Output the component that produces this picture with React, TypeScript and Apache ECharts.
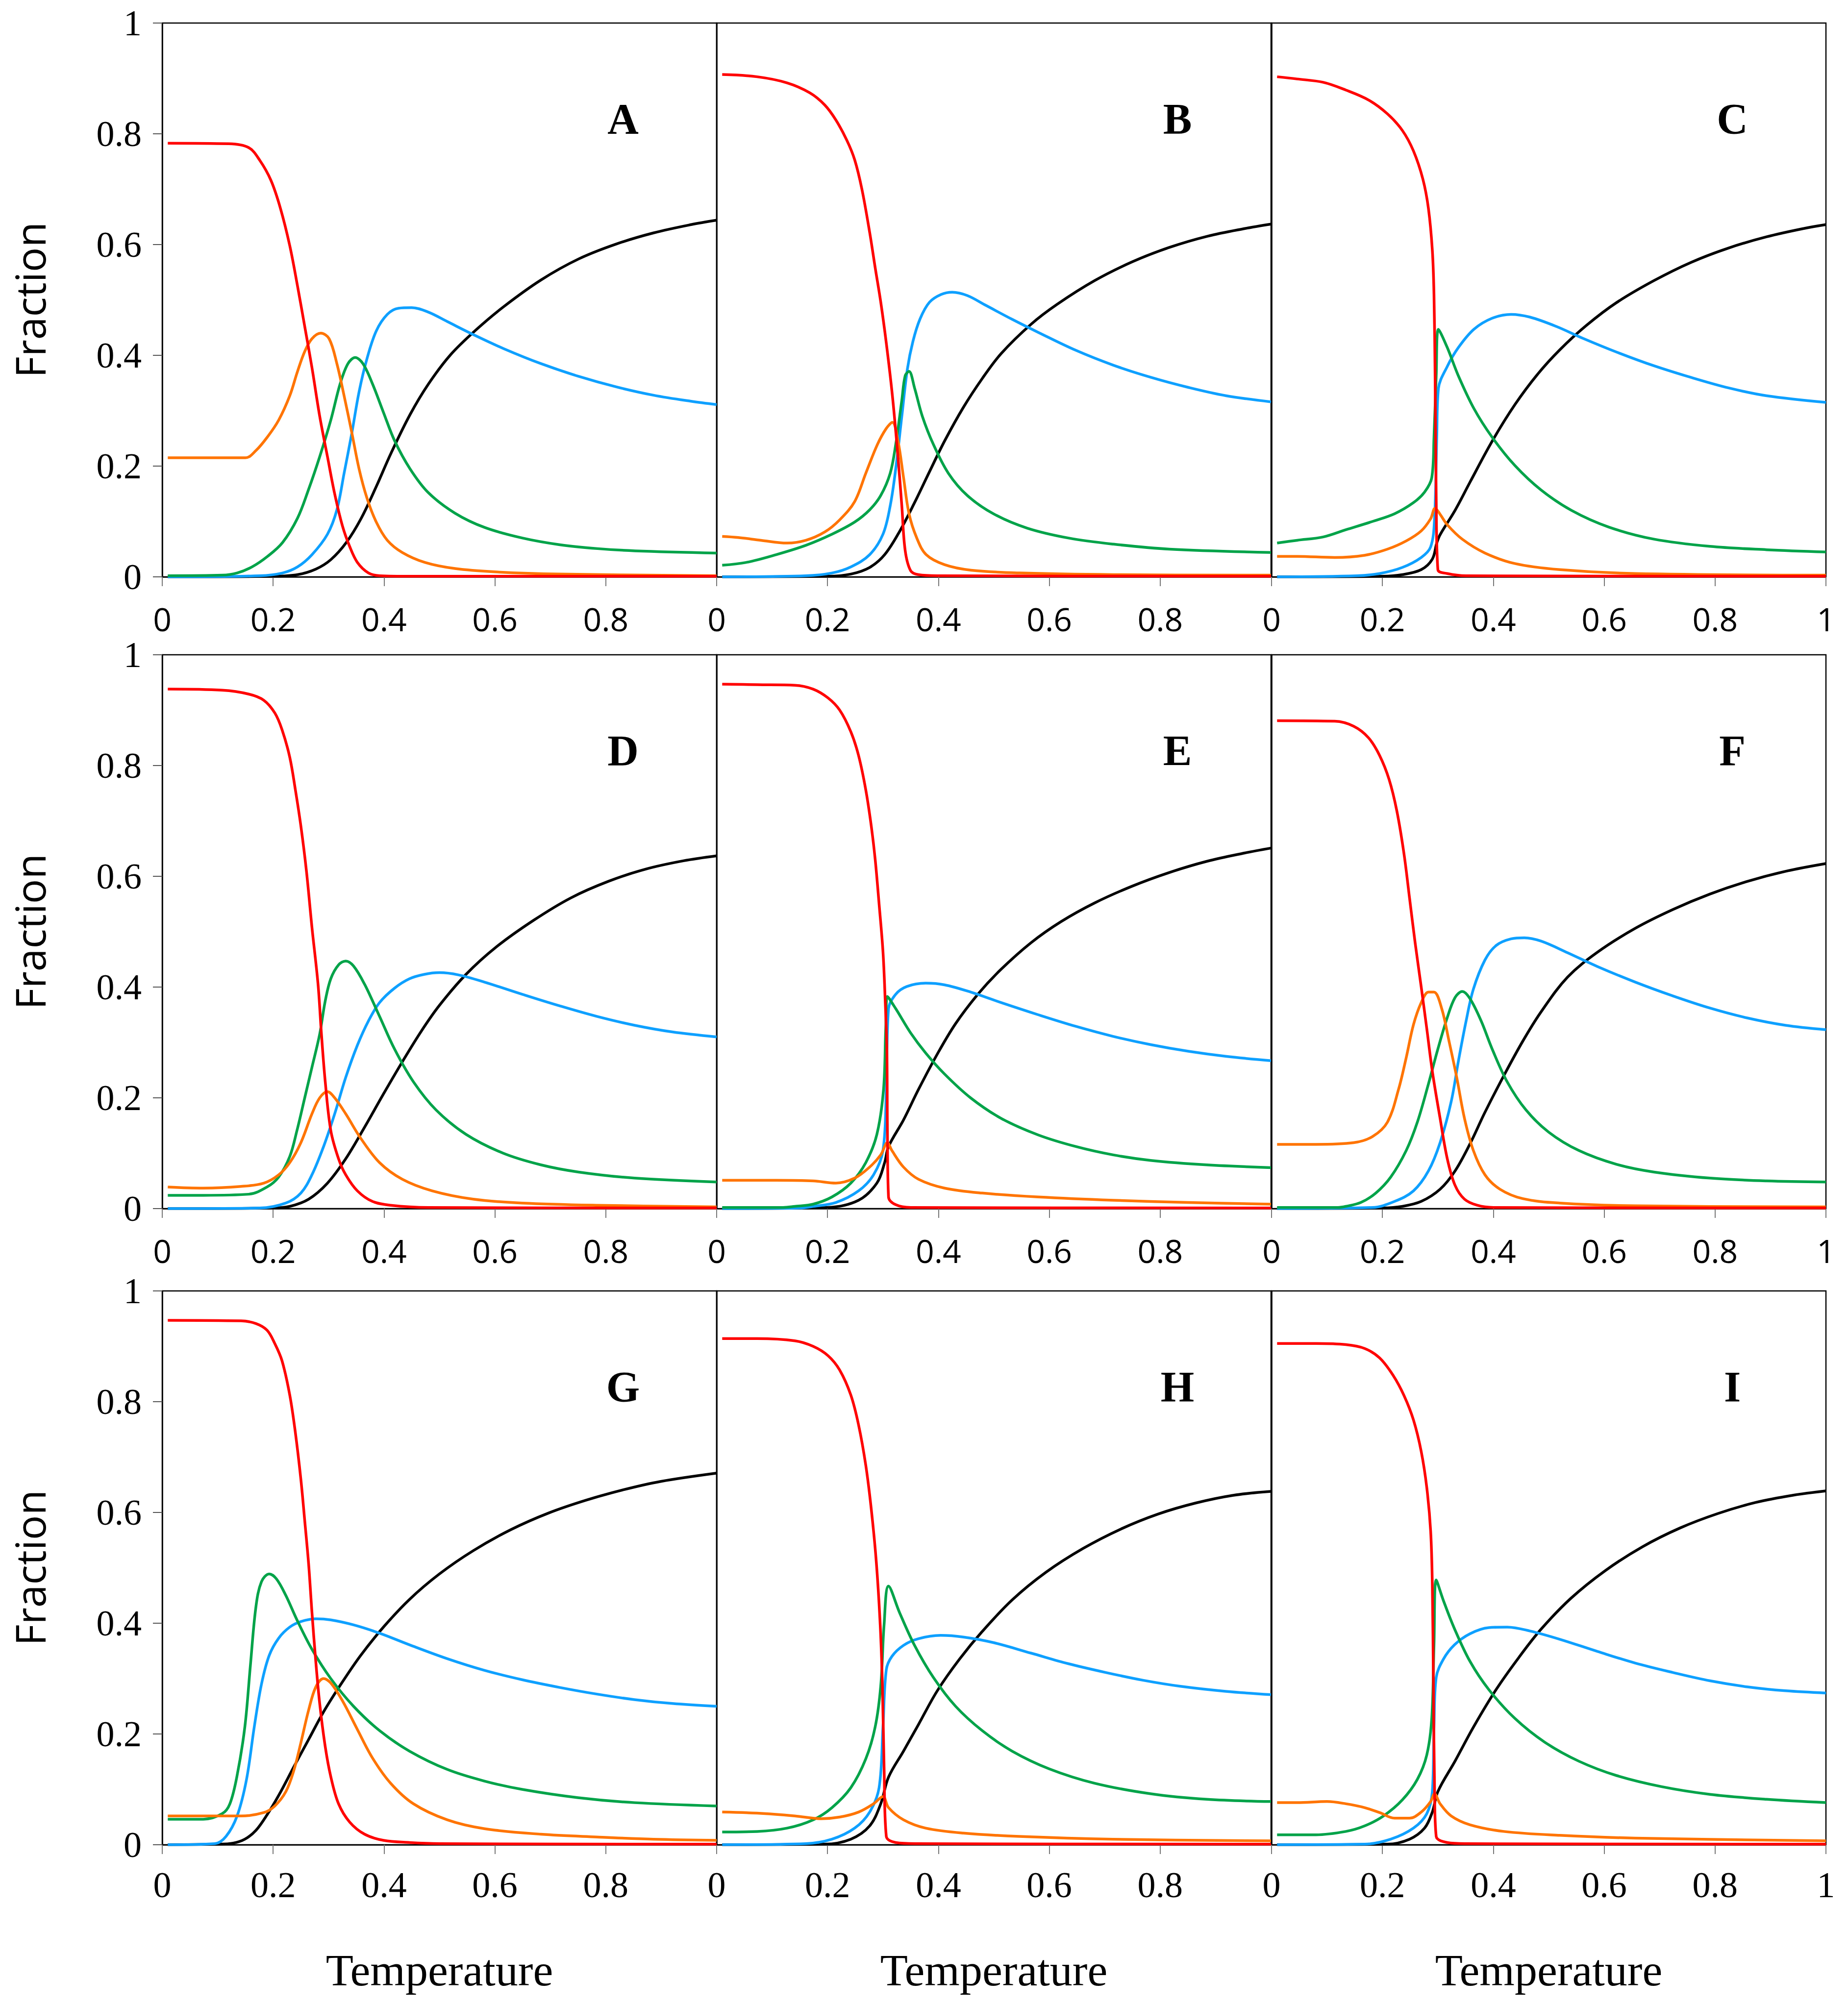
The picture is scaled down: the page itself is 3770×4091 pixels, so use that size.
import { useEffect, useRef } from "react"
import * as echarts from "echarts"

type Pt = [number, number]

// Panel A
const aRed: Pt[] = [[0.01,0.783],[0.12,0.782],[0.156,0.775],[0.176,0.752],[0.196,0.716],[0.213,0.666],[0.23,0.598],[0.244,0.525],[0.257,0.452],[0.27,0.378],[0.284,0.29],[0.298,0.217],[0.311,0.15],[0.325,0.092],[0.338,0.055],[0.352,0.026],[0.372,0.007],[0.392,0.002],[0.45,0.001],[1,0.001]]
const aOrange: Pt[] = [[0.01,0.215],[0.15,0.215],[0.169,0.228],[0.19,0.253],[0.21,0.283],[0.23,0.327],[0.244,0.371],[0.257,0.407],[0.27,0.43],[0.286,0.44],[0.301,0.43],[0.315,0.385],[0.328,0.327],[0.342,0.26],[0.355,0.195],[0.369,0.143],[0.386,0.099],[0.406,0.066],[0.433,0.044],[0.474,0.026],[0.528,0.015],[0.6,0.009],[0.717,0.005],[1,0.002]]
const aGreen: Pt[] = [[0.01,0.002],[0.108,0.003],[0.135,0.007],[0.162,0.018],[0.19,0.037],[0.217,0.062],[0.244,0.106],[0.264,0.158],[0.284,0.217],[0.304,0.283],[0.321,0.349],[0.335,0.385],[0.348,0.396],[0.362,0.385],[0.379,0.349],[0.399,0.297],[0.419,0.246],[0.447,0.195],[0.48,0.152],[0.528,0.115],[0.582,0.089],[0.65,0.07],[0.717,0.058],[0.785,0.051],[0.853,0.047],[1,0.043]]
const aBlue: Pt[] = [[0.01,0],[0.176,0.002],[0.217,0.007],[0.244,0.018],[0.27,0.04],[0.298,0.077],[0.315,0.121],[0.328,0.187],[0.342,0.26],[0.355,0.334],[0.369,0.393],[0.386,0.444],[0.406,0.474],[0.426,0.485],[0.45,0.486],[0.48,0.478],[0.514,0.461],[0.562,0.437],[0.616,0.412],[0.683,0.385],[0.751,0.362],[0.819,0.343],[0.886,0.328],[0.954,0.317],[1,0.311]]
const aBlack: Pt[] = [[0.01,0],[0.2,0.001],[0.244,0.004],[0.277,0.014],[0.304,0.031],[0.332,0.062],[0.359,0.106],[0.386,0.163],[0.413,0.224],[0.447,0.293],[0.48,0.348],[0.52,0.401],[0.566,0.446],[0.616,0.488],[0.683,0.536],[0.751,0.574],[0.819,0.601],[0.886,0.621],[0.954,0.636],[1,0.644]]

// Panel B
const bRed: Pt[] = [[0.01,0.907],[0.073,0.903],[0.127,0.892],[0.168,0.874],[0.195,0.852],[0.215,0.825],[0.235,0.788],[0.249,0.753],[0.262,0.7],[0.276,0.622],[0.286,0.558],[0.296,0.496],[0.306,0.422],[0.317,0.327],[0.327,0.217],[0.334,0.128],[0.34,0.048],[0.35,0.011],[0.364,0.004],[0.4,0.002],[1,0.001]]
const bOrange: Pt[] = [[0.01,0.073],[0.039,0.071],[0.08,0.066],[0.127,0.061],[0.161,0.066],[0.195,0.081],[0.222,0.103],[0.249,0.136],[0.269,0.187],[0.29,0.239],[0.306,0.268],[0.317,0.279],[0.327,0.246],[0.337,0.18],[0.347,0.114],[0.361,0.07],[0.378,0.04],[0.411,0.022],[0.459,0.012],[0.547,0.007],[0.716,0.004],[1,0.003]]
const bGreen: Pt[] = [[0.01,0.021],[0.053,0.026],[0.107,0.04],[0.161,0.057],[0.208,0.077],[0.249,0.099],[0.276,0.121],[0.296,0.147],[0.313,0.187],[0.323,0.239],[0.334,0.319],[0.34,0.363],[0.347,0.371],[0.357,0.341],[0.371,0.29],[0.391,0.239],[0.418,0.187],[0.452,0.147],[0.499,0.114],[0.56,0.088],[0.635,0.07],[0.716,0.059],[0.817,0.05],[1,0.044]]
const bBlue: Pt[] = [[0.01,0],[0.161,0.002],[0.208,0.007],[0.242,0.018],[0.276,0.04],[0.3,0.077],[0.313,0.128],[0.323,0.195],[0.334,0.29],[0.344,0.375],[0.354,0.425],[0.367,0.466],[0.384,0.496],[0.405,0.51],[0.425,0.514],[0.452,0.508],[0.486,0.49],[0.533,0.465],[0.581,0.441],[0.648,0.409],[0.716,0.382],[0.784,0.36],[0.851,0.342],[0.919,0.327],[1,0.316]]
const bBlack: Pt[] = [[0.01,0],[0.2,0.001],[0.242,0.005],[0.276,0.017],[0.303,0.04],[0.33,0.082],[0.357,0.134],[0.384,0.19],[0.411,0.245],[0.445,0.306],[0.479,0.358],[0.513,0.403],[0.567,0.456],[0.614,0.492],[0.682,0.535],[0.75,0.569],[0.817,0.595],[0.885,0.615],[0.953,0.629],[1,0.637]]

// Panel C
const cRed: Pt[] = [[0.01,0.903],[0.046,0.899],[0.093,0.893],[0.134,0.879],[0.175,0.861],[0.209,0.836],[0.236,0.806],[0.256,0.769],[0.273,0.718],[0.283,0.665],[0.29,0.59],[0.293,0.51],[0.295,0.363],[0.297,0.142],[0.3,0.013],[0.317,0.006],[0.351,0.002],[1,0.001]]
const cOrange: Pt[] = [[0.01,0.037],[0.046,0.037],[0.114,0.035],[0.168,0.039],[0.209,0.05],[0.243,0.065],[0.27,0.083],[0.287,0.105],[0.295,0.124],[0.304,0.113],[0.317,0.094],[0.344,0.068],[0.385,0.043],[0.439,0.024],[0.52,0.013],[0.656,0.006],[1,0.003]]
const cGreen: Pt[] = [[0.01,0.061],[0.046,0.066],[0.093,0.072],[0.134,0.085],[0.182,0.1],[0.222,0.114],[0.256,0.134],[0.276,0.153],[0.289,0.179],[0.293,0.252],[0.297,0.363],[0.301,0.447],[0.317,0.414],[0.337,0.363],[0.365,0.304],[0.398,0.252],[0.439,0.201],[0.486,0.157],[0.541,0.12],[0.608,0.09],[0.69,0.068],[0.791,0.055],[0.893,0.049],[1,0.045]]
const cBlue: Pt[] = [[0.01,0],[0.154,0.002],[0.195,0.006],[0.236,0.017],[0.27,0.035],[0.287,0.054],[0.294,0.105],[0.298,0.252],[0.301,0.34],[0.317,0.38],[0.337,0.414],[0.365,0.447],[0.398,0.467],[0.432,0.474],[0.466,0.469],[0.514,0.452],[0.561,0.431],[0.622,0.406],[0.69,0.381],[0.757,0.36],[0.825,0.341],[0.893,0.327],[1,0.315]]
const cBlack: Pt[] = [[0.01,0],[0.2,0.001],[0.236,0.004],[0.27,0.013],[0.29,0.032],[0.298,0.061],[0.304,0.076],[0.331,0.12],[0.358,0.171],[0.398,0.245],[0.439,0.311],[0.48,0.366],[0.52,0.41],[0.568,0.454],[0.622,0.495],[0.69,0.535],[0.757,0.568],[0.825,0.594],[0.893,0.614],[0.96,0.629],[1,0.636]]

// Panel D
const dRed: Pt[] = [[0.01,0.938],[0.108,0.936],[0.156,0.929],[0.183,0.918],[0.203,0.895],[0.216,0.865],[0.23,0.815],[0.24,0.757],[0.25,0.691],[0.26,0.61],[0.27,0.508],[0.281,0.405],[0.287,0.317],[0.294,0.229],[0.304,0.141],[0.318,0.09],[0.331,0.061],[0.352,0.032],[0.379,0.013],[0.412,0.006],[0.48,0.002],[1,0.001]]
const dOrange: Pt[] = [[0.01,0.039],[0.074,0.037],[0.142,0.04],[0.183,0.046],[0.21,0.061],[0.23,0.083],[0.25,0.119],[0.27,0.171],[0.284,0.2],[0.298,0.211],[0.311,0.2],[0.331,0.171],[0.358,0.127],[0.392,0.083],[0.433,0.053],[0.487,0.032],[0.561,0.017],[0.649,0.01],[0.784,0.006],[1,0.003]]
const dGreen: Pt[] = [[0.01,0.024],[0.074,0.024],[0.156,0.026],[0.189,0.039],[0.21,0.057],[0.23,0.094],[0.243,0.141],[0.257,0.2],[0.27,0.255],[0.284,0.315],[0.294,0.375],[0.304,0.415],[0.318,0.44],[0.331,0.447],[0.345,0.438],[0.365,0.405],[0.392,0.347],[0.419,0.288],[0.453,0.229],[0.494,0.178],[0.548,0.134],[0.615,0.1],[0.683,0.079],[0.751,0.066],[0.852,0.055],[1,0.048]]
const dBlue: Pt[] = [[0.01,0],[0.176,0.001],[0.223,0.01],[0.25,0.028],[0.27,0.061],[0.291,0.112],[0.311,0.171],[0.331,0.237],[0.352,0.295],[0.372,0.339],[0.392,0.372],[0.419,0.398],[0.446,0.415],[0.473,0.423],[0.5,0.426],[0.534,0.422],[0.581,0.409],[0.649,0.387],[0.717,0.366],[0.784,0.347],[0.852,0.331],[0.92,0.319],[1,0.31]]
const dBlack: Pt[] = [[0.01,0],[0.2,0.001],[0.23,0.004],[0.264,0.017],[0.298,0.046],[0.331,0.09],[0.365,0.147],[0.399,0.207],[0.433,0.265],[0.467,0.32],[0.5,0.367],[0.548,0.423],[0.602,0.472],[0.669,0.52],[0.737,0.561],[0.805,0.591],[0.872,0.613],[0.94,0.628],[1,0.637]]

// Panel E
const eRed: Pt[] = [[0.01,0.947],[0.073,0.946],[0.141,0.945],[0.174,0.938],[0.201,0.922],[0.222,0.9],[0.242,0.861],[0.256,0.818],[0.269,0.756],[0.279,0.69],[0.286,0.63],[0.293,0.55],[0.3,0.464],[0.304,0.376],[0.307,0.288],[0.308,0.141],[0.31,0.021],[0.323,0.007],[0.35,0.002],[1,0.001]]
const eOrange: Pt[] = [[0.01,0.051],[0.107,0.051],[0.174,0.05],[0.215,0.046],[0.249,0.055],[0.276,0.075],[0.296,0.097],[0.308,0.119],[0.316,0.105],[0.337,0.075],[0.364,0.053],[0.411,0.037],[0.479,0.028],[0.58,0.021],[0.715,0.015],[0.85,0.011],[1,0.008]]
const eGreen: Pt[] = [[0.01,0.002],[0.12,0.002],[0.141,0.004],[0.174,0.008],[0.208,0.021],[0.242,0.046],[0.269,0.083],[0.289,0.134],[0.301,0.215],[0.305,0.325],[0.308,0.383],[0.323,0.361],[0.35,0.317],[0.377,0.281],[0.411,0.243],[0.458,0.2],[0.513,0.163],[0.58,0.133],[0.648,0.112],[0.715,0.097],[0.783,0.087],[0.884,0.079],[1,0.074]]
const eBlue: Pt[] = [[0.01,0],[0.15,0.001],[0.174,0.004],[0.215,0.011],[0.256,0.032],[0.283,0.061],[0.3,0.105],[0.306,0.215],[0.31,0.361],[0.323,0.387],[0.343,0.401],[0.377,0.407],[0.411,0.404],[0.458,0.391],[0.513,0.372],[0.58,0.35],[0.648,0.329],[0.715,0.311],[0.783,0.296],[0.851,0.284],[0.918,0.275],[1,0.267]]
const eBlack: Pt[] = [[0.01,0],[0.2,0.002],[0.256,0.015],[0.289,0.046],[0.303,0.083],[0.31,0.112],[0.337,0.16],[0.364,0.215],[0.398,0.279],[0.431,0.334],[0.472,0.388],[0.513,0.432],[0.567,0.48],[0.621,0.518],[0.682,0.552],[0.749,0.582],[0.817,0.607],[0.884,0.627],[0.952,0.642],[1,0.651]]

// Panel F
const fRed: Pt[] = [[0.01,0.881],[0.114,0.88],[0.148,0.871],[0.175,0.85],[0.195,0.818],[0.212,0.775],[0.226,0.718],[0.239,0.64],[0.249,0.56],[0.259,0.48],[0.27,0.4],[0.28,0.325],[0.29,0.248],[0.304,0.163],[0.317,0.09],[0.331,0.042],[0.348,0.017],[0.371,0.006],[0.4,0.002],[1,0.001]]
const fOrange: Pt[] = [[0.01,0.116],[0.08,0.116],[0.148,0.119],[0.182,0.13],[0.209,0.156],[0.229,0.215],[0.243,0.273],[0.256,0.332],[0.27,0.372],[0.283,0.391],[0.293,0.391],[0.307,0.361],[0.32,0.303],[0.334,0.237],[0.348,0.163],[0.364,0.105],[0.385,0.061],[0.412,0.035],[0.453,0.018],[0.52,0.01],[0.656,0.005],[1,0.003]]
const fGreen: Pt[] = [[0.01,0.002],[0.12,0.002],[0.134,0.004],[0.161,0.011],[0.188,0.028],[0.215,0.057],[0.243,0.105],[0.263,0.156],[0.283,0.225],[0.3,0.288],[0.317,0.345],[0.331,0.381],[0.344,0.392],[0.358,0.379],[0.378,0.339],[0.398,0.288],[0.425,0.229],[0.459,0.178],[0.5,0.138],[0.554,0.105],[0.622,0.08],[0.69,0.066],[0.791,0.055],[0.893,0.05],[1,0.048]]
const fBlue: Pt[] = [[0.01,0],[0.182,0.002],[0.222,0.013],[0.256,0.032],[0.283,0.068],[0.304,0.119],[0.324,0.193],[0.337,0.266],[0.351,0.339],[0.364,0.396],[0.385,0.449],[0.405,0.475],[0.432,0.487],[0.456,0.489],[0.486,0.483],[0.534,0.462],[0.588,0.437],[0.656,0.409],[0.724,0.384],[0.791,0.362],[0.859,0.344],[0.927,0.331],[1,0.323]]
const fBlack: Pt[] = [[0.01,0],[0.2,0.001],[0.236,0.004],[0.27,0.013],[0.304,0.035],[0.331,0.068],[0.358,0.117],[0.385,0.174],[0.419,0.24],[0.453,0.302],[0.486,0.355],[0.534,0.418],[0.588,0.463],[0.656,0.506],[0.724,0.54],[0.791,0.568],[0.859,0.591],[0.927,0.609],[1,0.623]]

// Panel G
const gRed: Pt[] = [[0.01,0.947],[0.142,0.946],[0.169,0.941],[0.189,0.929],[0.203,0.905],[0.216,0.874],[0.23,0.812],[0.24,0.745],[0.25,0.66],[0.257,0.585],[0.264,0.507],[0.27,0.42],[0.277,0.33],[0.284,0.255],[0.294,0.177],[0.304,0.123],[0.318,0.074],[0.338,0.041],[0.365,0.019],[0.399,0.008],[0.446,0.004],[0.5,0.002],[1,0.001]]
const gOrange: Pt[] = [[0.01,0.052],[0.074,0.052],[0.142,0.052],[0.183,0.058],[0.203,0.07],[0.223,0.096],[0.237,0.133],[0.25,0.184],[0.264,0.243],[0.277,0.285],[0.291,0.3],[0.304,0.292],[0.325,0.26],[0.352,0.208],[0.379,0.157],[0.412,0.111],[0.453,0.074],[0.514,0.045],[0.581,0.029],[0.683,0.019],[0.784,0.014],[0.886,0.01],[1,0.008]]
const gGreen: Pt[] = [[0.01,0.046],[0.074,0.046],[0.108,0.056],[0.122,0.074],[0.135,0.125],[0.149,0.213],[0.159,0.324],[0.169,0.43],[0.179,0.475],[0.193,0.489],[0.206,0.48],[0.223,0.45],[0.243,0.406],[0.27,0.353],[0.304,0.3],[0.345,0.25],[0.392,0.206],[0.446,0.169],[0.514,0.136],[0.581,0.115],[0.649,0.1],[0.75,0.085],[0.852,0.076],[1,0.07]]
const gBlue: Pt[] = [[0.01,0],[0.095,0.002],[0.115,0.015],[0.135,0.052],[0.152,0.118],[0.166,0.213],[0.179,0.29],[0.193,0.342],[0.21,0.373],[0.23,0.393],[0.25,0.403],[0.277,0.408],[0.304,0.406],[0.345,0.397],[0.392,0.382],[0.446,0.361],[0.514,0.336],[0.581,0.315],[0.649,0.298],[0.717,0.284],[0.784,0.272],[0.852,0.262],[0.92,0.255],[1,0.25]]
const gBlack: Pt[] = [[0.01,0],[0.101,0.001],[0.128,0.003],[0.149,0.01],[0.169,0.026],[0.189,0.054],[0.21,0.089],[0.237,0.14],[0.264,0.19],[0.291,0.24],[0.325,0.294],[0.358,0.342],[0.399,0.393],[0.446,0.443],[0.5,0.489],[0.561,0.531],[0.629,0.569],[0.697,0.599],[0.764,0.622],[0.832,0.641],[0.899,0.656],[1,0.671]]

// Panel H
const hRed: Pt[] = [[0.01,0.914],[0.073,0.914],[0.141,0.91],[0.174,0.9],[0.201,0.883],[0.222,0.857],[0.242,0.812],[0.256,0.758],[0.269,0.685],[0.279,0.605],[0.288,0.51],[0.295,0.397],[0.299,0.287],[0.302,0.14],[0.306,0.015],[0.323,0.004],[0.36,0.002],[1,0.001]]
const hOrange: Pt[] = [[0.01,0.059],[0.073,0.057],[0.141,0.052],[0.188,0.047],[0.222,0.05],[0.256,0.059],[0.283,0.074],[0.3,0.087],[0.31,0.067],[0.337,0.045],[0.377,0.03],[0.445,0.021],[0.546,0.015],[0.715,0.01],[1,0.007]]
const hGreen: Pt[] = [[0.01,0.023],[0.073,0.024],[0.127,0.03],[0.174,0.045],[0.208,0.067],[0.242,0.103],[0.269,0.155],[0.286,0.213],[0.296,0.287],[0.302,0.397],[0.31,0.467],[0.33,0.419],[0.357,0.36],[0.391,0.302],[0.431,0.25],[0.479,0.206],[0.533,0.169],[0.6,0.137],[0.682,0.111],[0.783,0.092],[0.884,0.082],[1,0.078]]
const hBlue: Pt[] = [[0.01,0],[0.161,0.002],[0.208,0.01],[0.249,0.03],[0.276,0.059],[0.293,0.103],[0.3,0.213],[0.306,0.316],[0.316,0.34],[0.337,0.36],[0.364,0.372],[0.404,0.378],[0.445,0.375],[0.499,0.365],[0.567,0.346],[0.634,0.327],[0.702,0.311],[0.769,0.297],[0.837,0.286],[0.918,0.277],[1,0.271]]
const hBlack: Pt[] = [[0.01,0],[0.195,0.001],[0.242,0.01],[0.276,0.034],[0.296,0.074],[0.31,0.122],[0.337,0.169],[0.364,0.217],[0.398,0.278],[0.438,0.335],[0.479,0.385],[0.533,0.442],[0.594,0.492],[0.661,0.535],[0.729,0.57],[0.796,0.597],[0.864,0.617],[0.932,0.631],[1,0.638]]

// Panel I
const iRed: Pt[] = [[0.01,0.905],[0.08,0.905],[0.134,0.903],[0.168,0.896],[0.195,0.879],[0.219,0.848],[0.239,0.811],[0.256,0.767],[0.27,0.71],[0.28,0.645],[0.287,0.566],[0.29,0.47],[0.292,0.287],[0.294,0.103],[0.297,0.015],[0.317,0.004],[0.35,0.002],[1,0.001]]
const iOrange: Pt[] = [[0.01,0.076],[0.046,0.076],[0.1,0.078],[0.134,0.074],[0.168,0.067],[0.195,0.058],[0.222,0.048],[0.249,0.048],[0.27,0.059],[0.287,0.078],[0.294,0.092],[0.304,0.074],[0.324,0.052],[0.358,0.036],[0.419,0.024],[0.52,0.017],[0.656,0.012],[1,0.007]]
const iGreen: Pt[] = [[0.01,0.018],[0.08,0.018],[0.134,0.024],[0.168,0.034],[0.202,0.052],[0.236,0.081],[0.263,0.118],[0.28,0.162],[0.289,0.228],[0.293,0.36],[0.297,0.478],[0.31,0.441],[0.33,0.39],[0.358,0.331],[0.392,0.28],[0.439,0.228],[0.493,0.185],[0.554,0.151],[0.622,0.125],[0.703,0.105],[0.791,0.091],[0.893,0.082],[1,0.076]]
const iBlue: Pt[] = [[0.01,0],[0.168,0.001],[0.215,0.01],[0.256,0.03],[0.28,0.056],[0.29,0.096],[0.293,0.213],[0.297,0.302],[0.31,0.335],[0.33,0.361],[0.358,0.381],[0.392,0.392],[0.425,0.393],[0.466,0.386],[0.52,0.371],[0.588,0.349],[0.656,0.328],[0.724,0.311],[0.791,0.296],[0.859,0.285],[0.927,0.278],[1,0.274]]
const iBlack: Pt[] = [[0.01,0],[0.209,0.001],[0.249,0.01],[0.276,0.03],[0.29,0.059],[0.3,0.096],[0.331,0.151],[0.364,0.212],[0.405,0.28],[0.446,0.338],[0.486,0.389],[0.54,0.445],[0.602,0.495],[0.669,0.538],[0.737,0.572],[0.805,0.598],[0.873,0.618],[0.94,0.631],[1,0.639]]

const panelLetters = ["A", "B", "C", "D", "E", "F", "G", "H", "I"]
const xTitle = "Temperature"
const yTitle = "Fraction"

// red, orange, green, blue, black per panel
const panelCurves: Pt[][][] = [
  [aRed, aOrange, aGreen, aBlue, aBlack],
  [bRed, bOrange, bGreen, bBlue, bBlack],
  [cRed, cOrange, cGreen, cBlue, cBlack],
  [dRed, dOrange, dGreen, dBlue, dBlack],
  [eRed, eOrange, eGreen, eBlue, eBlack],
  [fRed, fOrange, fGreen, fBlue, fBlack],
  [gRed, gOrange, gGreen, gBlue, gBlack],
  [hRed, hOrange, hGreen, hBlue, hBlack],
  [iRed, iOrange, iGreen, iBlue, iBlack],
]
const curveColors = ["#ff0000", "#ff7400", "#00a349", "#0ea0ff", "#000000"]
const drawOrder = [4, 3, 2, 1, 0]

// layout in px
const colLeft = [331, 1462, 2594]
const rowTop = [47, 1336, 2634]
const PW = 1131
const PH = 1130
const SERIF = "'Liberation Serif', 'Times New Roman', serif"
const SANS = "'Open Sans', 'Noto Sans', sans-serif"

export default function App() {
  const chartRef = useRef<HTMLDivElement>(null)

  useEffect(() => {
    if (!chartRef.current) return
    const chart = echarts.init(chartRef.current, undefined, { renderer: "svg" })

    const grids = panelLetters.map((_, i) => ({
      left: colLeft[i % 3],
      top: rowTop[Math.floor(i / 3)],
      width: PW,
      height: PH,
      show: true,
      borderColor: "#000",
      borderWidth: 2.5,
      backgroundColor: "transparent",
    }))

    const xAxes = panelLetters.map((_, i) => {
      const col = i % 3
      const bottomRow = Math.floor(i / 3) === 2
      return {
        gridIndex: i,
        type: "value" as const,
        min: 0,
        max: 1,
        interval: 0.2,
        axisLine: { show: true, onZero: false, lineStyle: { color: "#000", width: 2.5 } },
        axisTick: { show: true, inside: false, length: 19, lineStyle: { color: "#777", width: 2 } },
        axisLabel: {
          show: true,
          showMaxLabel: col === 2,
          showMinLabel: true,
          margin: bottomRow ? 45 : 52,
          color: "#000",
          fontFamily: bottomRow ? SERIF : SANS,
          fontSize: bottomRow ? 74 : 66,
        },
        splitLine: { show: false },
      }
    })

    const yAxes = panelLetters.map((_, i) => {
      const col = i % 3
      return {
        gridIndex: i,
        type: "value" as const,
        min: 0,
        max: 1,
        interval: 0.2,
        axisLine: { show: true, lineStyle: { color: "#000", width: 2.5 } },
        axisTick: { show: col === 0, inside: false, length: 19, lineStyle: { color: "#555", width: 2 } },
        axisLabel: {
          show: col === 0,
          margin: 42,
          color: "#000",
          fontFamily: SERIF,
          fontSize: 74,
        },
        splitLine: { show: false },
      }
    })

    const series: any[] = []
    panelCurves.forEach((curves, i) => {
      drawOrder.forEach((k) => {
        series.push({
          type: "line",
          xAxisIndex: i,
          yAxisIndex: i,
          data: curves[k],
          showSymbol: false,
          symbol: "none",
          smooth: 0.35,
          silent: true,
          lineStyle: { color: curveColors[k], width: 5.5, join: "round" },
          itemStyle: { color: curveColors[k] },
        })
      })
    })

    const graphics: any[] = []
    panelLetters.forEach((letter, i) => {
      graphics.push({
        type: "text",
        x: colLeft[i % 3] + 940,
        y: rowTop[Math.floor(i / 3)] + 195,
        style: {
          text: letter,
          fill: "#000",
          fontFamily: SERIF,
          fontWeight: "bold",
          fontSize: 88,
          align: "center",
          verticalAlign: "middle",
        },
      })
    })
    rowTop.forEach((top) => {
      graphics.push({
        type: "text",
        x: 60,
        y: top + PH / 2,
        rotation: Math.PI / 2,
        style: {
          text: yTitle,
          fill: "#000",
          fontFamily: SANS,
          fontSize: 84,
          align: "center",
          verticalAlign: "middle",
        },
      })
    })
    colLeft.forEach((left) => {
      graphics.push({
        type: "text",
        x: left + PW / 2,
        y: 4020,
        style: {
          text: xTitle,
          fill: "#000",
          fontFamily: SERIF,
          fontSize: 92,
          align: "center",
          verticalAlign: "middle",
        },
      })
    })

    const options: echarts.EChartsOption = {
      animation: false,
      backgroundColor: "#ffffff",
      grid: grids,
      xAxis: xAxes,
      yAxis: yAxes,
      series,
      graphic: graphics,
    }

    chart.setOption(options)

    return () => {
      chart.dispose()
    }
  }, [])

  return (
    <div
      ref={chartRef}
      style={{ position: "absolute", left: 0, top: 0, width: 3770, height: 4091 }}
    />
  )
}
